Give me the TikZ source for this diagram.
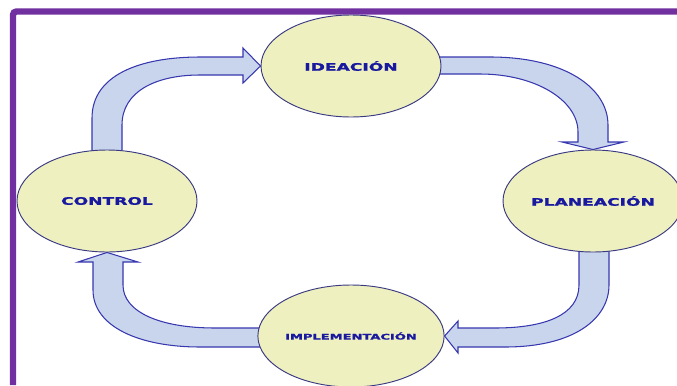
\documentclass[tikz,border=0pt]{standalone}
\usepackage{fontspec}
\usepackage{graphicx}
\setsansfont{DejaVu Sans}[BoldFeatures={FakeBold=1.2}]
\usetikzlibrary{shapes.geometric,backgrounds}

\definecolor{morado}{RGB}{112,48,160}
\definecolor{relleno}{RGB}{238,240,192}
\definecolor{bordeelipse}{RGB}{58,58,130}
\definecolor{flechaazul}{RGB}{201,213,236}
\definecolor{bordeflecha}{RGB}{55,55,175}
\definecolor{texto}{RGB}{25,25,160}

\tikzset{
	etapa/.style={ellipse, draw=bordeelipse, fill=relleno, line width=0.8pt,
		minimum width=54mm, minimum height=30.6mm, inner sep=0pt, text=texto,
		font=\sffamily\bfseries\fontsize{8.8}{10}\selectfont},
	bloque/.style={draw=bordeflecha, fill=flechaazul, line width=0.9pt}
}
\newcommand{\ancho}[1]{\scalebox{1.66}[1]{#1}}

\begin{document}
\begin{tikzpicture}[x=0.3mm, y=-0.3mm]
\useasboundingbox (0,0) rectangle (677,385);

% Marco
\draw[morado, line width=1.9mm, rounded corners=1mm] (13,385) -- (13,11.5) -- (677,11.5);

% Etapas del ciclo
\node[etapa] (idea) at (351,66) {\ancho{IDEACIÓN}};
\node[etapa] (plan) at (593,201) {\ancho{PLANEACIÓN}};
\node[etapa] (ctrl) at (107,201) {\ancho{CONTROL}};
\node[etapa, font=\sffamily\bfseries\fontsize{6.7}{8}\selectfont] (impl) at (351,336) {\ancho{IMPLEMENTACIÓN}};

% Flechas
\begin{scope}[on background layer]
	\draw[bloque] (92,158) -- (92,118) .. controls (92,75) and (140,57) .. (200,57) -- (243,57)
		-- (243,48) -- (idea.west) -- (243,83) -- (243,75) -- (200,75)
		.. controls (155,75) and (122,92) .. (122,125) -- (122,158) -- cycle;

	\draw[bloque] (430,57) -- (490,57) .. controls (565,57) and (608,88) .. (608,125) -- (608,142)
		-- (624,142) -- (plan.north) -- (562,142) -- (578,142) -- (578,132)
		.. controls (578,100) and (535,74) .. (480,74) -- (430,74) -- cycle;

	\draw[bloque] (579,245) -- (579,285) .. controls (579,315) and (545,328) .. (495,328) -- (458,328)
		-- (458,321) -- (impl.east) -- (458,353) -- (458,347) -- (505,347)
		.. controls (575,347) and (609,318) .. (609,285) -- (609,245) -- cycle;

	\draw[bloque] (270,328) -- (215,328) .. controls (160,328) and (123,312) .. (123,285) -- (123,262)
		-- (138,262) -- (ctrl.south) -- (78,262) -- (93,262) -- (93,290)
		.. controls (93,327) and (140,347) .. (200,347) -- (270,347) -- cycle;
\end{scope}
\end{tikzpicture}
\end{document}
